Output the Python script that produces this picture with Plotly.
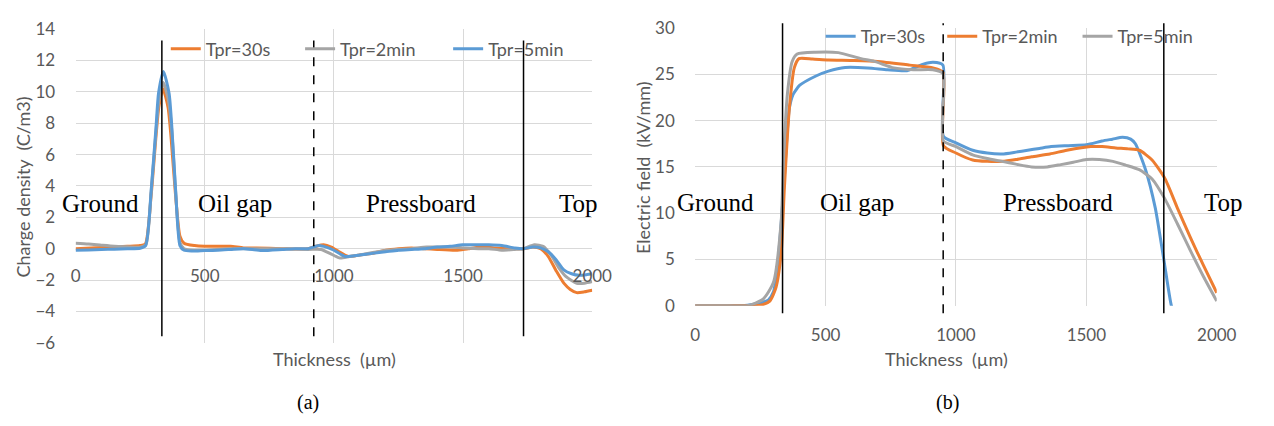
import plotly.graph_objects as go

# ---------------- data: (a) charge density ----------------
a30_x = [0, 100, 200, 250, 270, 293, 312, 322, 338, 358, 370, 386, 404, 420, 460, 500, 550, 600, 650, 700, 800, 900, 930, 960, 990, 1020, 1055, 1100, 1150, 1200, 1250, 1300, 1350, 1400, 1473, 1520, 1574, 1620, 1680, 1734, 1770, 1800, 1830, 1860, 1890, 1915, 1940, 1970, 2000]
a30_y = [0.0, 0.08, 0.15, 0.2, 0.3, 3.5, 7.3, 9.0, 10.2, 9.0, 7.0, 3.6, 0.8, 0.35, 0.2, 0.15, 0.15, 0.15, 0.05, 0.05, 0.0, 0.0, 0.15, 0.25, 0.1, -0.2, -0.5, -0.4, -0.3, -0.1, 0.0, 0.05, 0.0, -0.05, -0.1, 0.0, 0.1, 0.05, 0.0, 0.0, 0.1, 0.0, -0.5, -1.4, -2.2, -2.6, -2.8, -2.75, -2.65]

a2_x = [0, 50, 100, 150, 200, 250, 272, 293, 312, 322, 339, 360, 372, 387, 404, 420, 460, 500, 600, 700, 800, 900, 950, 990, 1024, 1060, 1100, 1150, 1207, 1250, 1300, 1359, 1400, 1450, 1500, 1560, 1600, 1650, 1700, 1734, 1776, 1810, 1840, 1870, 1900, 1940, 1970, 2000]
a2_y = [0.35, 0.3, 0.22, 0.15, 0.12, 0.1, 0.25, 3.7, 7.6, 9.4, 10.6, 9.4, 7.6, 3.7, 0.4, 0.0, -0.1, -0.1, 0.0, 0.0, 0.0, -0.05, -0.05, -0.35, -0.6, -0.5, -0.4, -0.25, -0.1, -0.05, 0.0, 0.1, 0.1, 0.1, 0.05, 0.0, 0.0, -0.1, -0.05, 0.0, 0.25, 0.15, -0.4, -1.2, -1.8, -2.2, -2.2, -2.1]

a5_x = [0, 50, 100, 150, 200, 250, 271, 293, 312, 321, 340, 362, 372, 387, 404, 420, 450, 500, 550, 600, 650, 720, 800, 850, 900, 941, 970, 1000, 1043, 1100, 1150, 1200, 1250, 1300, 1350, 1400, 1450, 1498, 1550, 1600, 1650, 1700, 1734, 1770, 1800, 1830, 1860, 1890, 1920, 1950, 1980, 2000]
a5_y = [-0.1, -0.08, -0.05, -0.03, 0.0, 0.03, 0.2, 3.8, 7.9, 9.9, 11.3, 9.9, 7.9, 3.8, 0.2, -0.1, -0.15, -0.12, -0.1, -0.05, 0.0, -0.12, -0.05, 0.0, 0.0, 0.2, 0.1, -0.1, -0.5, -0.4, -0.3, -0.2, -0.1, -0.05, 0.0, 0.1, 0.15, 0.25, 0.25, 0.25, 0.2, 0.05, 0.0, 0.1, 0.05, -0.2, -0.7, -1.35, -1.6, -1.7, -1.65, -1.6]

# ---------------- data: (b) electric field ----------------
b30_x = [0, 100, 200, 250, 280, 300, 315, 330, 340, 350, 361, 375, 386, 400, 461, 511, 575, 662, 737, 812, 875, 912, 950, 952, 1000, 1064, 1120, 1177, 1230, 1275, 1320, 1365, 1430, 1500, 1560, 1600, 1639, 1670, 1688, 1727, 1764, 1797, 1826, 1840]
b30_y = [0, 0, 0.05, 0.3, 0.6, 1.5, 4.0, 9.0, 13.0, 17.5, 21.3, 22.8, 23.3, 23.8, 24.8, 25.35, 25.75, 25.7, 25.5, 25.4, 26.1, 26.3, 26.0, 18.3, 17.6, 16.8, 16.5, 16.4, 16.6, 16.8, 17.0, 17.2, 17.3, 17.4, 17.8, 18.0, 18.2, 18.0, 17.5, 14.7, 10.6, 5.0, 0.0, -1.0]

b2_x = [0, 100, 200, 250, 286, 310, 330, 342, 361, 380, 398, 450, 511, 600, 699, 823, 912, 950, 952, 1000, 1064, 1120, 1177, 1230, 1290, 1360, 1425, 1517, 1560, 1613, 1660, 1703, 1752, 1802, 1850, 1900, 1950, 2000]
b2_y = [0, 0, 0, 0.05, 0.5, 2.0, 5.8, 12.7, 21.3, 25.7, 26.7, 26.65, 26.55, 26.5, 26.4, 26.0, 25.7, 25.25, 17.3, 16.5, 15.75, 15.6, 15.6, 15.8, 16.1, 16.4, 16.8, 17.2, 17.2, 17.05, 16.95, 16.8, 15.75, 13.7, 10.5, 7.3, 4.3, 1.4]

b5_x = [0, 100, 200, 260, 300, 330, 339, 354, 372, 391, 461, 549, 636, 687, 762, 837, 912, 950, 952, 1000, 1064, 1120, 1177, 1230, 1290, 1350, 1402, 1450, 1500, 1550, 1602, 1650, 1703, 1752, 1800, 1850, 1900, 1950, 2000]
b5_y = [0, 0, 0, 0.7, 2.5, 9.2, 16.0, 23.0, 26.4, 27.2, 27.4, 27.35, 26.7, 26.4, 25.7, 25.5, 25.5, 25.1, 17.8, 17.2, 16.3, 15.9, 15.6, 15.3, 15.0, 15.0, 15.25, 15.5, 15.8, 15.8, 15.6, 15.2, 14.7, 13.7, 11.6, 8.8, 5.9, 3.1, 0.5]

x_ticks = [0, 500, 1000, 1500, 2000]
boundaries_a = [334, 922, 1734]
boundaries_b = [335, 951, 1797]
regions = ["Ground", "Oil gap", "Pressboard", "Top"]

ORANGE = "#ED7D31"
GRAY = "#A5A5A5"
BLUE = "#5B9BD5"
TXT = "#595959"
GRID = "#D9D9D9"
W, H = 1274, 426
SANS = "Lato"
SERIF = "Liberation Serif"


def px(x):
    return x / W


def py(y):
    return 1 - y / H


fig = go.Figure()

series = [
    (a30_x, a30_y, "Tpr=30s", ORANGE, "x", "y", "legend"),
    (a2_x, a2_y, "Tpr=2min", GRAY, "x", "y", "legend2"),
    (a5_x, a5_y, "Tpr=5min", BLUE, "x", "y", "legend3"),
    (b30_x, b30_y, "Tpr=30s", BLUE, "x2", "y2", "legend4"),
    (b2_x, b2_y, "Tpr=2min", ORANGE, "x2", "y2", "legend5"),
    (b5_x, b5_y, "Tpr=5min", GRAY, "x2", "y2", "legend6"),
]
for xs, ys, name, col, xa, ya, lg in series:
    fig.add_trace(go.Scatter(
        x=xs, y=ys, name=name, mode="lines", xaxis=xa, yaxis=ya, legend=lg,
        line=dict(color=col, width=3, shape="spline", smoothing=0.6),
    ))

# legends (one per entry, placed like the original); value = start of the text
leg_pos = {
    "legend": (204, 40), "legend2": (341, 40), "legend3": (492, 40),
    "legend4": (872, 27), "legend5": (996, 27), "legend6": (1134, 27),
}
for k, (tx, ty) in leg_pos.items():
    fig.update_layout({k: dict(
        x=px(tx - 40), y=py(ty), xanchor="left", yanchor="middle",
        bgcolor="rgba(0,0,0,0)", borderwidth=0,
        font=dict(family=SANS, size=18, color=TXT),
        itemwidth=30, orientation="h",
    )})

axis_common = dict(
    showgrid=True, gridcolor=GRID, gridwidth=1, zeroline=False,
    tickfont=dict(family=SANS, size=17, color=TXT),
    ticks="outside", tickcolor="rgba(0,0,0,0)", showline=False,
)

fig.update_layout(
    width=W, height=H, margin=dict(l=0, r=0, t=0, b=0),
    paper_bgcolor="white", plot_bgcolor="white", showlegend=True,
    xaxis=dict(domain=[px(72), px(599)], range=[0, 2000], tickvals=x_ticks,
               anchor="free", position=py(250), ticklen=12, **axis_common),
    yaxis=dict(domain=[py(349), py(19)], range=[-6, 14], dtick=2,
               anchor="x", ticklen=16, **axis_common),
    xaxis2=dict(domain=[px(704), px(1236)], range=[0, 2000], tickvals=x_ticks,
                anchor="y2", ticklen=14, **axis_common),
    yaxis2=dict(domain=[py(310), py(18)], range=[0, 30], dtick=5,
                anchor="x2", ticklen=16, **axis_common),
)

shapes = []
for i, b in enumerate(boundaries_a):
    shapes.append(dict(type="line", xref="x", yref="paper", x0=b, x1=b,
                       y0=py(342), y1=py(31),
                       line=dict(color="black", width=1.5,
                                 dash="dash" if i == 1 else "solid")))
for i, b in enumerate(boundaries_b):
    shapes.append(dict(type="line", xref="x2", yref="paper", x0=b, x1=b,
                       y0=py(318), y1=py(13),
                       line=dict(color="black", width=1.5,
                                 dash="dash" if i == 1 else "solid")))
fig.update_layout(shapes=shapes)

ann = []
for name, cx in zip(regions, [97, 235, 424, 585]):
    ann.append(dict(text=name, x=px(cx), y=py(202), xref="paper", yref="paper",
                    showarrow=False, xanchor="center", yanchor="middle",
                    font=dict(family=SERIF, size=25, color="black")))
for name, cx in zip(regions, [725, 869, 1074, 1243]):
    ann.append(dict(text=name, x=px(cx), y=py(201), xref="paper", yref="paper",
                    showarrow=False, xanchor="center", yanchor="middle",
                    font=dict(family=SERIF, size=25, color="black")))
ann.append(dict(text="Charge density\u00a0\u00a0(C/m3)", x=px(18), y=py(185),
                xref="paper", yref="paper", showarrow=False, textangle=-90,
                xanchor="center", yanchor="middle",
                font=dict(family=SANS, size=18, color=TXT)))
ann.append(dict(text="Electric field\u00a0\u00a0(kV/mm)", x=px(651), y=py(165),
                xref="paper", yref="paper", showarrow=False, textangle=-90,
                xanchor="center", yanchor="middle",
                font=dict(family=SANS, size=18, color=TXT)))
for cx in (336, 960):
    ann.append(dict(text="Thickness\u00a0\u00a0(\u00b5m)", x=px(cx), y=py(366),
                    xref="paper", yref="paper", showarrow=False,
                    xanchor="center", yanchor="middle",
                    font=dict(family=SANS, size=18, color=TXT)))
for t, cx in (("(a)", 309), ("(b)", 961)):
    ann.append(dict(text=t, x=px(cx), y=py(412), xref="paper", yref="paper",
                    showarrow=False, xanchor="center", yanchor="middle",
                    font=dict(family=SERIF, size=20, color="black")))
fig.update_layout(annotations=ann)

fig.write_html("out.html")
